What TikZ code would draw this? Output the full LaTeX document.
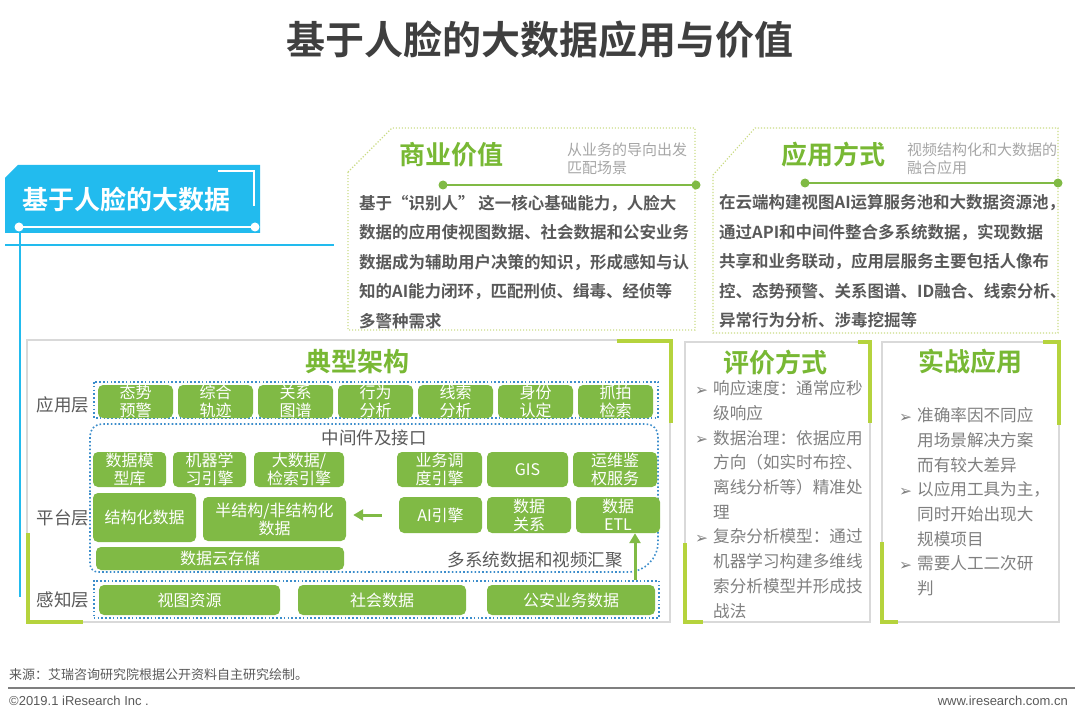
\documentclass[tikz,border=0pt]{standalone}
\usepackage{fontspec}
\setmainfont{Noto Sans CJK SC}[BoldFont={Noto Sans CJK SC Bold}]
\newfontfamily\symfont{DejaVu Sans}
\newfontfamily\latinfont{Liberation Sans}
\usepackage{xcolor}
\usepackage{tikz}
\usetikzlibrary{arrows.meta, positioning, calc}
\makeatletter
\newcommand\headsize  {\@setfontsize\headsize  {39}{46}}
\newcommand\bannersize{\@setfontsize\bannersize{26}{30}}
\newcommand\capsize   {\@setfontsize\capsize   {26}{30}}
\newcommand\notesize  {\@setfontsize\notesize  {15}{17.5}}
\newcommand\bodysize  {\@setfontsize\bodysize  {16.5}{29.5}}
\newcommand\listsize  {\@setfontsize\listsize  {16.6}{24.7}}
\newcommand\boxsize   {\@setfontsize\boxsize   {16}{18}}
\newcommand\layersize {\@setfontsize\layersize {17.5}{20}}
\newcommand\footsize  {\@setfontsize\footsize  {13}{15}}
\makeatother
\newcommand\listmark{\makebox[18pt][l]{\symfont\fontsize{15.5}{16}\selectfont\raisebox{-0.5pt}{➢}}}
\newcommand\contline{\hspace*{18pt}}
\definecolor{headtext}  {HTML}{3F3F3F}
\definecolor{bannerblue}{HTML}{22BBEE}
\definecolor{boxgreen}  {HTML}{80BA45}
\definecolor{titlegreen}{HTML}{78B834}
\definecolor{limeline}  {HTML}{B5D33D}
\definecolor{dotline}   {HTML}{CADB85}
\definecolor{layerblue} {HTML}{3C8DCB}
\definecolor{framegray} {HTML}{D9D9D9}
\definecolor{bodygray}  {HTML}{595959}
\definecolor{listgray}  {HTML}{7F7F7F}
\definecolor{notegray}  {HTML}{A6A6A6}
\tikzset{
  gbox/.style={fill=boxgreen,rounded corners=5pt,text=white,font=\boxsize,align=center,inner sep=0pt},
  layerframe/.style={draw=layerblue,line width=1.6pt,dash pattern=on 1.6pt off 2.2pt},
  topframe/.style={draw=dotline,line width=1.2pt,dash pattern=on 1.2pt off 1.8pt},
  cornerline/.style={limeline,line width=4pt},
  flowarrow/.style={draw=boxgreen,line width=3pt,-{Triangle[length=10pt,width=11pt]}},
  capt/.style={font=\capsize\bfseries,text=titlegreen},
  notetext/.style={font=\notesize,text=notegray,align=left,anchor=west,inner sep=0pt},
  bodytext/.style={font=\bodysize\bfseries,text=bodygray,align=left,anchor=north west,inner sep=0pt},
  listtext/.style={font=\listsize,text=listgray,align=left,anchor=north west,inner sep=0pt},
  layertext/.style={font=\layersize,text=bodygray,inner sep=0pt}
}
\begin{document}
\begin{tikzpicture}[x=1pt,y=-1pt]
\useasboundingbox(0,0)rectangle(1080,714);
\node[font=\headsize\bfseries,text=headtext](title)at(540,40){基于人脸的大数据应用与价值};
\fill[bannerblue](5,178)--(18,165)--(260,165)--(260,233)--(5,233)--cycle;
\node[font=\bannersize\bfseries,text=white,anchor=west,inner sep=0pt](banner)at(22,200){基于人脸的大数据};
\draw[white,line width=1.2pt](218,171)--(254,171)--(254,206);
\draw[white,line width=2.4pt](19,227)--(255,227);
\fill[white](19,227)circle(4.5)(255,227)circle(4.5);
\draw[bannerblue,line width=2.5pt](5,245)--(334,245);
\draw[bannerblue,line width=2.5pt](20,233)--(20,597);
\draw[topframe](348,172)--(392,128)--(695,128)--(695,330)--(348,330)--cycle;
\node[capt](valuehead)at(451,155){商业价值};
\node[notetext](valuenote)at(567,159){从业务的导向出发\\匹配场景};
\draw[boxgreen,line width=2.5pt](443,185)--(696,185);
\fill[boxgreen](443,185)circle(4.5)(696,185)circle(4.5);
\node[bodytext](valuetext)at(359,194.6){基于“识别人” 这一核心基础能力，人脸大\\数据的应用使视图数据、社会数据和公安业务\\数据成为辅助用户决策的知识，形成感知与认\\知的AI能力闭环，匹配刑侦、缉毒、经侦等\\多警种需求};
\draw[topframe](713,175)--(755,128)--(1058,128)--(1058,333)--(713,333)--cycle;
\node[capt](usagehead)at(833,155){应用方式};
\node[notetext](usagenote)at(907,159){视频结构化和大数据的\\融合应用};
\draw[boxgreen,line width=2.5pt](805,183)--(1058,183);
\fill[boxgreen](805,183)circle(4.5)(1058,183)circle(4.5);
\node[bodytext](usagetext)at(719,194.6){在云端构建视图AI运算服务池和大数据资源池，\\通过API和中间件整合多系统数据，实现数据\\共享和业务联动，应用层服务主要包括人像布\\控、态势预警、关系图谱、ID融合、线索分析、\\异常行为分析、涉毒挖掘等};
\draw[framegray,line width=1.5pt](27,340)rectangle(670,622);
\draw[cornerline](617,341)--(671,341)--(671,423);
\draw[cornerline](28,533)--(28,622)--(83,622);
\node[capt](archhead)at(357,362){典型架构};
\node[layertext](applabel)at(63,405){应用层};
\node[layertext](platlabel)at(63,518){平台层};
\node[layertext](senselabel)at(63,600){感知层};
\draw[layerframe](94,382)rectangle(658,418);
\draw[layerframe](90,500)[rounded corners=12pt]--(90,424)--(658,424)[rounded corners=30pt]--(658,572)[rounded corners=8pt]--(90,572)--cycle;
\node[layerframe,minimum width=565,minimum height=37,anchor=north west,inner sep=0pt](senseframe)at(93,580){};
\node[gbox,minimum width=75,minimum height=33](tsyj)at(135.5,401.5){态势\\预警};
\node[gbox,minimum width=75,minimum height=33](zhgj)at(215.5,401.5){综合\\轨迹};
\node[gbox,minimum width=75,minimum height=33](gxtp)at(295.5,401.5){关系\\图谱};
\node[gbox,minimum width=75,minimum height=33](xwfx)at(375.5,401.5){行为\\分析};
\node[gbox,minimum width=75,minimum height=33](xsfx)at(455.5,401.5){线索\\分析};
\node[gbox,minimum width=75,minimum height=33](sfrd)at(535.5,401.5){身份\\认定};
\node[gbox,minimum width=75,minimum height=33](zpjs)at(615.5,401.5){抓拍\\检索};
\node[layertext](midlabel)at(374,438){中间件及接口};
\node[gbox,minimum width=73,minimum height=35](sjmx)at(129.5,469.5){数据模\\型库};
\node[gbox,minimum width=73,minimum height=35](jqxx)at(209.5,469.5){机器学\\习引擎};
\node[gbox,minimum width=90,minimum height=35](dsj)at(299,469.5){大数据/\\检索引擎};
\node[gbox,minimum width=85,minimum height=35](ywdd)at(439.5,469.5){业务调\\度引擎};
\node[gbox,minimum width=81,minimum height=35](gis)at(527.5,469.5){GIS};
\node[gbox,minimum width=84,minimum height=35](ywjq)at(615,469.5){运维鉴\\权服务};
\node[gbox,minimum width=103,minimum height=49](jgh)at(144.5,517.5){结构化数据};
\node[gbox,minimum width=143,minimum height=44](bjg)at(274.5,519){半结构/非结构化\\数据};
\node[gbox,minimum width=83,minimum height=36](aiyq)at(440.5,515){AI引擎};
\node[gbox,minimum width=84,minimum height=36](sjgx)at(529,515){数据\\关系};
\node[gbox,minimum width=84,minimum height=36](etl)at(618,515){数据\\ETL};
\node[gbox,minimum width=248,minimum height=23](yccc)at(220,558.5){数据云存储};
\node[layertext](gatherlabel)at(535,560){多系统数据和视频汇聚};
\node[gbox,minimum width=181,minimum height=30](stzy)at(189.5,600){视图资源};
\node[gbox,minimum width=168,minimum height=30](shsj)at(382,600){社会数据};
\node[gbox,minimum width=168,minimum height=30](gaywsj)at(571,600){公安业务数据};
\draw[flowarrow]([xshift=-17pt]aiyq.west)--([xshift=7pt]bjg.east|-aiyq.west);
\draw[flowarrow]([xshift=17pt]etl.south|-senseframe.north)--([xshift=17pt]etl.south);
\draw[framegray,line width=1.5pt](685,342)rectangle(870,622);
\draw[cornerline](858,342)--(870,342)--(870,423);
\draw[cornerline](685,543)--(685,622)--(703,622);
\node[capt](evalhead)at(775,363){评价方式};
\node[listtext](evaltext)at(695,380.5){\listmark 响应速度：通常应秒\\\contline 级响应\\\listmark 数据治理：依据应用\\\contline 方向（如实时布控、\\\contline 离线分析等）精准处\\\contline 理\\\listmark 复杂分析模型：通过\\\contline 机器学习构建多维线\\\contline 索分析模型并形成技\\\contline 战法};
\draw[framegray,line width=1.5pt](882,342)rectangle(1059,622);
\draw[cornerline](1043,342)--(1059,342)--(1059,425);
\draw[cornerline](882,542)--(882,622)--(898,622);
\node[capt](practhead)at(970,362){实战应用};
\node[listtext](practtext)at(899,407.5){\listmark 准确率因不同应\\\contline 用场景解决方案\\\contline 而有较大差异\\\listmark 以应用工具为主，\\\contline 同时开始出现大\\\contline 规模项目\\\listmark 需要人工二次研\\\contline 判};
\node[font=\footsize,text=bodygray,anchor=west,inner sep=0pt](source)at(9,675){来源：艾瑞咨询研究院根据公开资料自主研究绘制。};
\draw[listgray,line width=1.2pt](8,688)--(1075,688);
\node[font=\latinfont\footsize,text=bodygray,anchor=west,inner sep=0pt](copyright)at(9,701){©2019.1 iResearch Inc .};
\node[font=\latinfont\footsize,text=bodygray,anchor=east,inner sep=0pt](website)at(1068,701){www.iresearch.com.cn};
\end{tikzpicture}
\end{document}
